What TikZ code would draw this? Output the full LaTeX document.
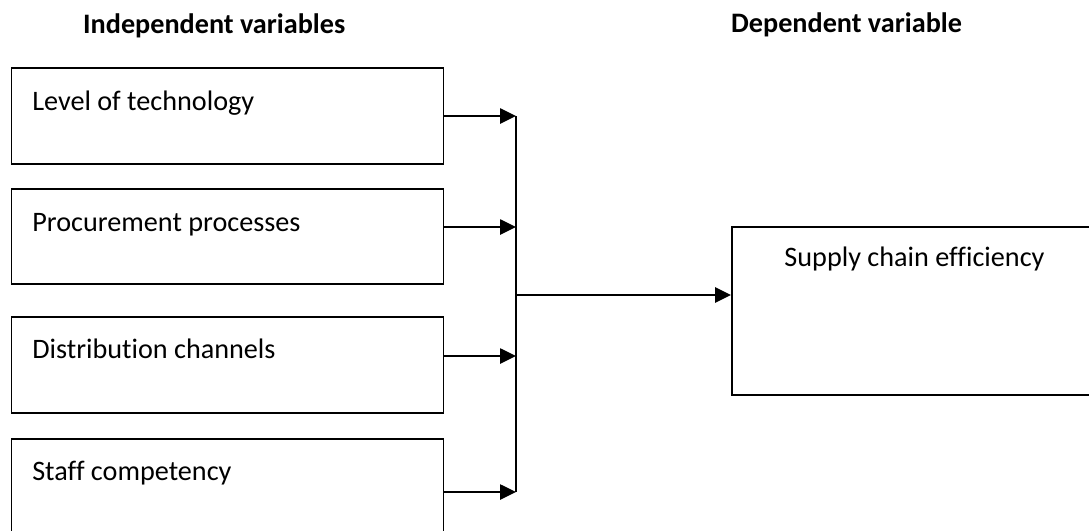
\documentclass[tikz,border=0pt]{standalone}
\usepackage{fontspec}
\setmainfont{Carlito}[Ligatures=NoCommon]
\usetikzlibrary{arrows.meta}
\begin{document}
\begin{tikzpicture}[x=1pt,y=-1pt,
  box/.style={draw=black,line width=1.8pt,rectangle,inner sep=0pt},
  lbl/.style={anchor=base west,inner sep=0pt,font=\fontsize{28.2}{34}\selectfont},
  ttl/.style={anchor=base west,inner sep=0pt,font=\fontsize{28.2}{34}\selectfont\bfseries},
  arr/.style={line width=2.6pt,-{Triangle[length=16pt,width=15pt]}},
  bus/.style={line width=2.2pt}]
\useasboundingbox (0,0) rectangle (1089,530);
% titles
\node[ttl] (t1) at (83,33) {Independent variables};
\node[ttl] (t2) at (731,32) {Dependent variable};
% boxes
\node[box,minimum width=432pt,minimum height=96pt] (b1) at (227.5,116) {};
\node[box,minimum width=432pt,minimum height=95pt] (b2) at (227.5,236.5) {};
\node[box,minimum width=432pt,minimum height=96pt] (b3) at (227.5,365) {};
\node[box,minimum width=432pt,minimum height=96pt] (b4) at (227.5,487) {};
\node[box,minimum width=365pt,minimum height=168pt] (d) at (914.5,311) {};
% labels
\node[lbl] (l1) at ([xshift=21.5pt,yshift=-43pt]b1.north west) {Level of technology};
\node[lbl] (l2) at ([xshift=21.5pt,yshift=-43pt]b2.north west) {Procurement processes};
\node[lbl] (l3) at ([xshift=21.5pt,yshift=-42pt]b3.north west) {Distribution channels};
\node[lbl] (l4) at ([xshift=21.5pt,yshift=-42pt]b4.north west) {Staff competency};
\node[anchor=base,inner sep=0pt,font=\fontsize{28.2}{34}\selectfont] (ld) at ([yshift=-40pt]d.north) {Supply chain efficiency};
% junction points on the bus
\coordinate (j1) at (516,116);
\coordinate (j2) at (516,227);
\coordinate (j3) at (516,356);
\coordinate (j4) at (516,492);
\coordinate (jm) at (516,295);
% connectors
\draw[arr] (b1.east) -- (j1);
\draw[arr] ([yshift=9.5pt]b2.east) -- (j2);
\draw[arr] ([yshift=9pt]b3.east) -- (j3);
\draw[arr] ([yshift=-5pt]b4.east) -- (j4);
\draw[bus] (j1) -- (j4);
\draw[arr] (jm) -- ([yshift=16pt]d.west);
\end{tikzpicture}
\end{document}
